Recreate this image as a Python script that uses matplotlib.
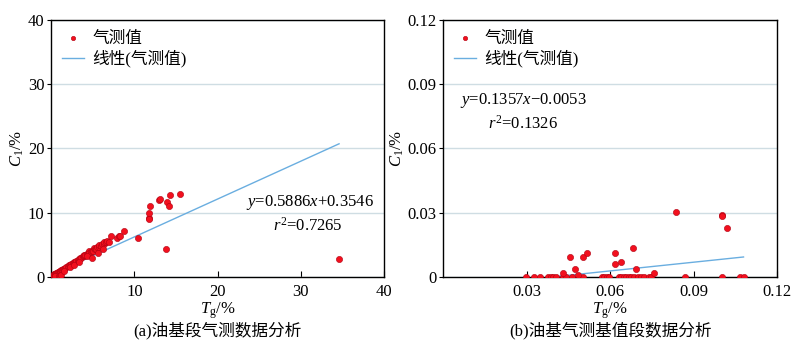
import matplotlib
matplotlib.use("Agg")
import matplotlib.pyplot as plt
import numpy as np

plt.rcParams['font.family'] = ['Liberation Serif', 'Noto Sans CJK SC']
plt.rcParams['mathtext.fontset'] = 'custom'
plt.rcParams['mathtext.rm'] = 'Liberation Serif'
plt.rcParams['mathtext.it'] = 'Liberation Serif:italic'

# (a) oil-based section gas logging data
tg_a = [0.2, 0.3, 0.4, 0.5, 0.6, 0.7, 0.8, 0.9, 1.0, 1.1, 1.2, 1.3, 1.4, 1.5,
        1.7, 1.8, 2.0, 2.1, 2.3, 2.4, 2.6, 2.7, 2.9, 3.0, 3.2, 3.3, 3.5, 3.6,
        3.8, 3.9, 4.0, 4.1, 4.3, 4.4, 4.5, 4.6, 4.8, 4.9, 5.0, 5.1, 5.3, 5.4,
        5.5, 5.7, 5.8, 6.0, 6.1, 6.3, 6.4, 6.6, 6.7, 6.9, 7.2, 7.9, 8.1, 8.3,
        8.8, 0.5, 0.9, 1.1, 1.2, 1.5, 2.2, 2.8, 3.4, 4.3, 4.9, 5.6, 6.2,
        10.4, 11.7, 11.8, 11.7, 11.9, 13.0, 13.1, 13.9, 14.1, 14.3, 15.5,
        13.8, 34.6]
c1_a = [0.3, 0.4, 0.5, 0.5, 0.6, 0.7, 0.8, 0.8, 0.9, 1.0, 1.1, 1.1, 1.2, 1.3,
        1.4, 1.5, 1.7, 1.8, 1.9, 2.0, 2.2, 2.3, 2.4, 2.5, 2.7, 2.8, 2.9, 3.0,
        3.2, 3.3, 3.4, 3.5, 3.6, 3.7, 4.1, 3.8, 3.9, 4.0, 4.1, 4.5, 4.3, 4.4,
        4.6, 4.7, 5.0, 4.9, 5.1, 5.2, 5.5, 5.4, 5.6, 5.5, 6.4, 6.1, 6.4, 6.4,
        7.1, 0.1, 0.2, 0.1, 0.3, 0.9, 1.5, 1.9, 2.4, 3.3, 3.0, 3.8, 4.4,
        6.0, 9.2, 9.0, 9.9, 11.0, 12.0, 12.2, 11.7, 11.1, 12.7, 12.9,
        4.4, 2.8]
fit_a = (0.5886, 0.3546)
r2_a = 0.7265

# (b) oil-based baseline section
tg_b = [0.0296, 0.0325, 0.0346, 0.0376, 0.0387, 0.0396, 0.0406, 0.0432, 0.0441,
        0.0462, 0.0502, 0.0570, 0.0579, 0.0588, 0.0596, 0.0630, 0.0638, 0.0648,
        0.0656, 0.0666, 0.0674, 0.0684, 0.0701, 0.0710, 0.0720, 0.0738, 0.0746,
        0.0870, 0.1001, 0.1067, 0.1079,
        0.0431, 0.0454, 0.0473, 0.0484, 0.0504, 0.0516, 0.0618, 0.0619, 0.0640,
        0.0682, 0.0692, 0.0756, 0.0838, 0.1001, 0.1001, 0.1019]
c1_b = [0.0] * 31 + [0.0020, 0.0092, 0.0036, 0.0008, 0.0092, 0.0111, 0.0111,
                     0.0061, 0.0070, 0.0137, 0.0036, 0.0020, 0.0305, 0.0289,
                     0.0283, 0.0227]
fit_b = (0.1357, -0.0053)
r2_b = 0.1326

fig = plt.figure(figsize=(8, 3.48), dpi=100)
ax1 = fig.add_axes([0.064, 0.204, 0.416, 0.739])
ax2 = fig.add_axes([0.554, 0.204, 0.4175, 0.739])

dot_color = '#f2101e'
edge_color = '#b00010'
line_color = '#6aaee0'
grid_color = '#cfdde3'


def draw(ax, tg, c1, fit, lim, ticks, labels):
    xs = np.array([min(tg), max(tg)])
    ax.plot(xs, fit[0] * xs + fit[1], color=line_color, lw=1.0,
            label='线性(气测值)', zorder=2)
    ax.scatter(tg, c1, s=20, color=dot_color, edgecolors=edge_color,
               linewidths=0.4, label='气测值', zorder=3)
    ax.set_xlim(0, lim)
    ax.set_ylim(0, lim)
    ax.set_xticks(ticks[1:])
    ax.set_xticklabels(labels[1:])
    ax.set_yticks(ticks)
    ax.set_yticklabels(labels)
    ax.grid(axis='y', color=grid_color, lw=1.0)
    ax.set_axisbelow(True)
    ax.tick_params(axis='x', direction='in', length=4, labelsize=12, pad=5)
    ax.tick_params(axis='y', direction='out', length=3, labelsize=12, pad=2)
    for sp in ax.spines.values():
        sp.set_linewidth(1.0)
    ax.set_xlabel(r'$T_{\rm g}$/%', fontsize=12, labelpad=0)
    ax.set_ylabel(r'$C_1$/%', fontsize=12, labelpad=1)
    h, l = ax.get_legend_handles_labels()
    ax.legend(h[::-1], l[::-1], loc='upper left', frameon=False,
              fontsize=12, handlelength=1.3, borderaxespad=0.25,
              labelspacing=0.2, handletextpad=0.5, markerscale=0.7)


draw(ax1, tg_a, c1_a, fit_a, 40, [0, 10, 20, 30, 40],
     ['0', '10', '20', '30', '40'])
draw(ax2, tg_b, c1_b, fit_b, 0.12, [0, 0.03, 0.06, 0.09, 0.12],
     ['0', '0.03', '0.06', '0.09', '0.12'])

ax1.text(0.585, 0.29, r'$y$=%.4f$x$+%.4f' % fit_a, transform=ax1.transAxes,
         fontsize=12, ha='left', va='center')
ax1.text(0.665, 0.20, r'$r^2$=%.4f' % r2_a, transform=ax1.transAxes,
         fontsize=12, ha='left', va='center')
ax2.text(0.05, 0.685, r'$y$=%.4f$x$−%.4f' % (fit_b[0], -fit_b[1]),
         transform=ax2.transAxes, fontsize=12, ha='left', va='center')
ax2.text(0.135, 0.595, r'$r^2$=%.4f' % r2_b, transform=ax2.transAxes,
         fontsize=12, ha='left', va='center')

fig.text(0.272, 0.05, '(a)油基段气测数据分析', ha='center', va='center', fontsize=12)
fig.text(0.763, 0.05, '(b)油基气测基值段数据分析', ha='center', va='center', fontsize=12)

fig.savefig('out.png', dpi=100)
